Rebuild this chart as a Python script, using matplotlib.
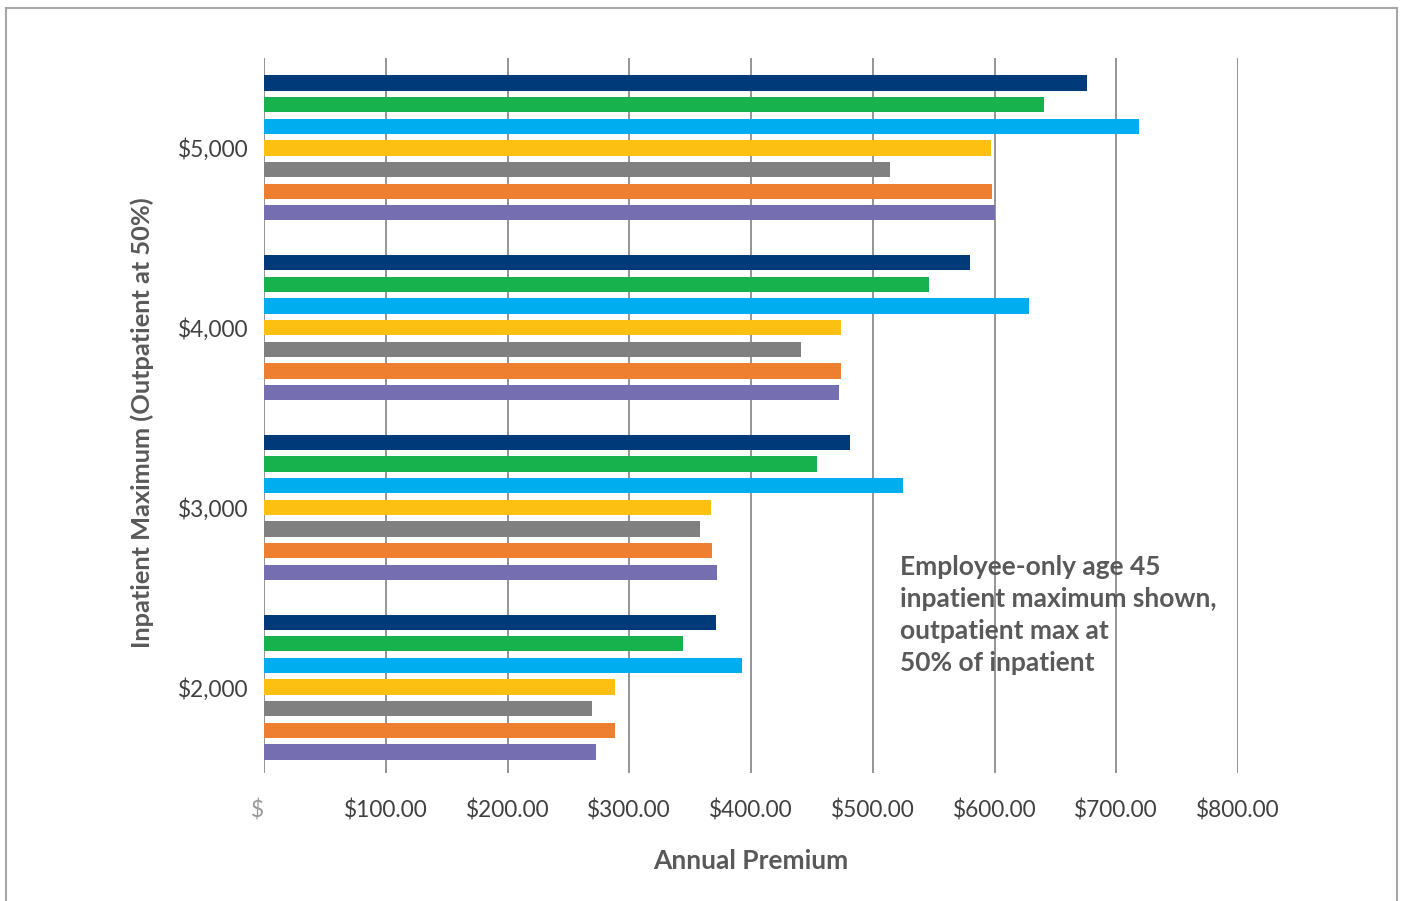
import matplotlib
matplotlib.use("Agg")
import matplotlib.pyplot as plt
from matplotlib.lines import Line2D
import numpy as np

plt.rcParams['font.family'] = ['Lato', 'DejaVu Sans']

# inpatient maximum categories (bottom to top)
categories = ["$2,000", "$3,000", "$4,000", "$5,000"]

# annual premium per plan option, one list per bar colour (top bar to bottom bar in each group)
navy_vals = [371, 481, 580, 676]
green_vals = [344, 454, 546, 641]
cyan_vals = [393, 525, 628, 719]
yellow_vals = [288, 367, 474, 597]
gray_vals = [269, 358, 441, 514]
orange_vals = [288, 368, 474, 598]
purple_vals = [273, 372, 472, 600]

series = [navy_vals, green_vals, cyan_vals, yellow_vals, gray_vals, orange_vals, purple_vals]
colors = ["#003A78", "#17B14D", "#00AEEF", "#FBC011", "#808080", "#EE7F30", "#756EB1"]

x_ticks = [0, 100, 200, 300, 400, 500, 600, 700, 800]
x_ticklabels = ["$", "$100.00", "$200.00", "$300.00", "$400.00",
                "$500.00", "$600.00", "$700.00", "$800.00"]

note = "Employee-only age 45\ninpatient maximum shown,\noutpatient max at\n50% of inpatient"

W, H = 1403, 901
fig = plt.figure(figsize=(W / 100, H / 100), dpi=100)
ax = fig.add_axes([264 / W, 1 - 773 / H, 974 / W, (773 - 58) / H])

y = np.arange(len(categories))
step = 0.1204
bar_h = 0.085
for i, (vals, c) in enumerate(zip(series, colors)):
    off = (3 - i) * step
    ax.barh(y + off, vals, height=bar_h, color=c, zorder=3)

ax.set_xlim(0, 800)
ax.set_ylim(-0.478, 3.5)
ax.set_xticks(x_ticks)
ax.set_xticklabels(x_ticklabels)
ax.set_yticks(y)
ax.set_yticklabels(categories)
ax.grid(axis='x', color='#8c8c8c', linewidth=1.3, zorder=0)
ax.grid(axis='y', visible=False)
for s in ax.spines.values():
    s.set_visible(False)
ax.tick_params(length=0, labelsize=16.3, labelcolor='#404040')
ax.tick_params(axis='x', pad=19)
ax.tick_params(axis='y', pad=11)
zero_lab = ax.get_xticklabels()[0]
zero_lab.set_color('#9a9a9a')
zero_lab.set_ha('right')

ax.set_xlabel("Annual Premium", fontsize=19, fontweight='bold', color='#595959', labelpad=20)
ax.set_ylabel("Inpatient Maximum (Outpatient at 50%)", fontsize=18.3, fontweight='bold',
              color='#595959', labelpad=17)
ax.yaxis.label.set_y(0.49)

fig.text(900 / W, 1 - 555 / H, note, fontsize=19, fontweight='bold', color='#595959',
         ha='left', va='top', linespacing=1.4)

# outer frame (left, top, right)
frame_col = '#a6a6a6'
fig.add_artist(Line2D([6 / W, 6 / W], [0, 1 - 8 / H], transform=fig.transFigure, color=frame_col, lw=1.5))
fig.add_artist(Line2D([6 / W, 1397 / W], [1 - 8 / H, 1 - 8 / H], transform=fig.transFigure, color=frame_col, lw=1.5))
fig.add_artist(Line2D([1397 / W, 1397 / W], [0, 1 - 8 / H], transform=fig.transFigure, color=frame_col, lw=1.5))

fig.savefig("out.png", dpi=100)
